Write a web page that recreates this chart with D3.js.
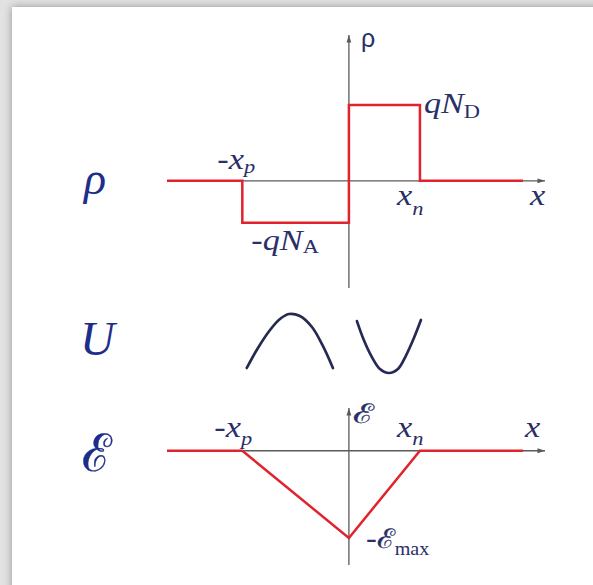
<!DOCTYPE html>
<html>
<head>
<meta charset="utf-8">
<script src="https://cdn.jsdelivr.net/npm/d3@7"></script>
<style>
  html, body { margin: 0; padding: 0; background: #fff; }
  svg { display: block; }
  .serif { font-family: "Liberation Serif", "Times New Roman", serif; }
  .sans { font-family: "Liberation Sans", "DejaVu Sans", sans-serif; }
</style>
</head>
<body>
<svg id="chart" width="593" height="585"></svg>
<script>
// p-n junction in the depletion approximation (arbitrary units, junction at x = 0)
const xExtent = [-2.56, 2.76];      // horizontal axis span
const xp = 1.5;                     // depletion edge on the p side
const xn = 1.0;                     // depletion edge on the n side

// Charge density ρ(x), in units of qN_D
const rhoX = [-2.56, -1.5, -1.5, 0, 0, 1.0, 1.0, 2.45];
const rhoV = [0, 0, -0.55, -0.55, 1.0, 1.0, 0, 0];
const rhoExtent = [-1.41, 1.92];

// Potential energy sketches U(x): hole barrier (arch) and electron well (bowl)
const archX = [-1.437, -1.28, -1.11, -0.97, -0.845, -0.69, -0.52, -0.366, -0.225];
const archU = [0.085, 0.424, 0.729, 0.915, 1.0, 0.966, 0.78, 0.458, 0.085];
const bowlX = [0.113, 0.21, 0.324, 0.437, 0.563, 0.69, 0.80, 0.915, 1.014];
const bowlU = [0.88, 0.56, 0.27, 0.068, 0, 0.068, 0.288, 0.593, 0.898];

// Electric field ℰ(x), in units of ℰ_max
const fieldX = [-2.56, -1.5, 0, 1.0, 2.45];
const fieldV = [0, 0, -1, 0, 0];
const fieldExtent = [-1.31, 0.49];

const RED = "#e0232c";
const AXIS = "#5a5a5a";
const INK = "#2a2f68";
const ROW_INK = "#1f2d8a";

const svg = d3.select("#chart");

// ---- page frame: grey backdrop with a soft shadow round the white panel
const defs = svg.append("defs");
const blur = defs.append("filter").attr("id", "shadow")
  .attr("x", "-10%").attr("y", "-10%").attr("width", "120%").attr("height", "120%");
blur.append("feGaussianBlur").attr("stdDeviation", 4);

svg.append("rect").attr("width", 593).attr("height", 585).attr("fill", "#e2e2e2");
svg.append("rect").attr("x", 12).attr("y", 7).attr("width", 600).attr("height", 600)
  .attr("fill", "#000").attr("opacity", 0.35).attr("filter", "url(#shadow)");
svg.append("rect").attr("x", 12).attr("y", 7).attr("width", 600).attr("height", 600)
  .attr("fill", "#fff");

// arrowhead for the axes
defs.append("marker").attr("id", "arrow")
  .attr("viewBox", "0 -4 10 8").attr("refX", 10).attr("refY", 0)
  .attr("markerUnits", "userSpaceOnUse")
  .attr("markerWidth", 9).attr("markerHeight", 6)
  .attr("orient", "auto")
  .append("path").attr("d", "M0,-3.2L10,0L0,3.2Z").attr("fill", AXIS);

// ---- scales
const x = d3.scaleLinear().domain(xExtent).range([167, 545]);
const yRho = d3.scaleLinear().domain(rhoExtent).range([288, 35]);
const yU = d3.scaleLinear().domain([0, 1]).range([373, 314]);
const yField = d3.scaleLinear().domain(fieldExtent).range([565, 408]);

function drawAxes(yScale, extent) {
  const g = svg.append("g");
  g.append("line")
    .attr("x1", x(xExtent[0])).attr("x2", x(xExtent[1]))
    .attr("y1", yScale(0)).attr("y2", yScale(0))
    .attr("stroke", AXIS).attr("stroke-width", 1.3)
    .attr("marker-end", "url(#arrow)");
  g.append("line")
    .attr("x1", x(0)).attr("x2", x(0))
    .attr("y1", yScale(extent[0])).attr("y2", yScale(extent[1]))
    .attr("stroke", AXIS).attr("stroke-width", 1.3)
    .attr("marker-end", "url(#arrow)");
}

// text with italic/roman runs and subscripts, set slightly wide
function label(px, py, runs, opts = {}) {
  const sx = opts.sx || 1.18;
  const g = svg.append("g")
    .attr("transform", `translate(${px},${py}) scale(${sx},1)`);
  const t = g.append("text")
    .attr("class", opts.cls || "serif")
    .attr("x", 0).attr("y", 0)
    .attr("fill", opts.fill || INK)
    .attr("font-size", opts.size || 29);
  runs.forEach(r => {
    const s = t.append("tspan")
      .attr("y", r.sub || 0)
      .attr("font-size", r.size || null)
      .attr("font-style", r.italic === false ? "normal" : "italic")
      .text(r.t);
    if (r.heavy) s.attr("stroke", opts.fill || INK).attr("stroke-width", r.heavy);
  });
  return t;
}

// ---- ρ(x)
drawAxes(yRho, rhoExtent);
svg.append("path")
  .datum(d3.zip(rhoX, rhoV))
  .attr("d", d3.line().x(d => x(d[0])).y(d => yRho(d[1])))
  .attr("fill", "none").attr("stroke", RED).attr("stroke-width", 2.5)
  .attr("stroke-linejoin", "miter");

label(x(0) + 12, yRho(1.92) + 12, [{ t: "ρ", italic: false }], { cls: "sans", size: 25, sx: 1 });
label(x(xn) + 4, yRho(1.0) + 8, [{ t: "qN" }, { t: "D", italic: false, size: 19, sub: 5 }]);
label(x(-xp) - 25, yRho(0) - 12, [{ t: "-x" }, { t: "p", size: 19, sub: 4 }]);
label(x(xn) - 23, yRho(0) + 24, [{ t: "x" }, { t: "n", size: 19, sub: 10 }]);
label(x(xExtent[1]) - 15, yRho(0) + 24, [{ t: "x" }]);
label(x(-xp) + 9, yRho(-0.55) + 27, [{ t: "-qN" }, { t: "A", italic: false, size: 19, sub: 3 }]);

// ---- U(x)
const uLine = d3.line().x(d => x(d[0])).y(d => yU(d[1])).curve(d3.curveCatmullRom.alpha(0.5));
[[archX, archU], [bowlX, bowlU]].forEach(([xs, us]) => {
  svg.append("path")
    .datum(d3.zip(xs, us))
    .attr("d", uLine)
    .attr("fill", "none").attr("stroke", "#262a52").attr("stroke-width", 2.7)
    .attr("stroke-linecap", "round");
});

// ---- ℰ(x)
drawAxes(yField, fieldExtent);
svg.append("path")
  .datum(d3.zip(fieldX, fieldV))
  .attr("d", d3.line().x(d => x(d[0])).y(d => yField(d[1])))
  .attr("fill", "none").attr("stroke", RED).attr("stroke-width", 2.5)
  .attr("stroke-linejoin", "miter");

label(x(0) + 4, yField(0.49) + 15, [{ t: "ℰ", italic: false, heavy: 0.25 }], { size: 27, sx: 1.3 });
label(x(-xp) - 28, yField(0) - 14, [{ t: "-x" }, { t: "p", size: 19, sub: 8 }]);
label(x(xn) - 23, yField(0) - 14, [{ t: "x" }, { t: "n", size: 19, sub: 8 }]);
label(x(xExtent[1]) - 20, yField(0) - 14, [{ t: "x" }]);
label(x(0) + 17, yField(-1) + 10, [{ t: "-" }, { t: "ℰ", italic: false, size: 27, heavy: 0.25 }, { t: "max", italic: false, size: 18, sub: 7 }], { sx: 1.12 });

// ---- row labels
label(84, 194, [{ t: "ρ" }], { fill: ROW_INK, size: 46, sx: 1 });
label(80, 355, [{ t: "U" }], { fill: ROW_INK, size: 48, sx: 1 });
label(82, 471, [{ t: "ℰ", italic: false, heavy: 0.4 }], { fill: ROW_INK, size: 52, sx: 0.95 });
</script>
</body>
</html>
